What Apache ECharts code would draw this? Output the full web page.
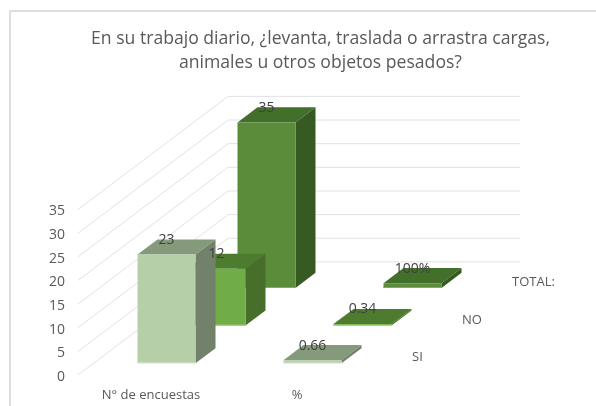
<!DOCTYPE html>
<html><head><meta charset="utf-8">
<style>html,body{margin:0;padding:0;background:#fff}#c{width:596px;height:406px}</style>
<script src="https://cdn.jsdelivr.net/npm/echarts@6/dist/echarts.min.js"></script>
</head><body><div id="c"></div>
<script>
var titleText = 'En su trabajo diario, ¿levanta, traslada o arrastra cargas,\nanimales u otros objetos pesados?';
var categories = ['N° de encuestas', '%'];
var seriesNames = ['SI', 'NO', 'TOTAL:'];
var siValues = [23, 0.66];
var noValues = [12, 0.34];
var totalValues = [35, 1];
var siLabels = ['23', '0.66'];
var noLabels = ['12', '0.34'];
var totalLabels = ['35', '100%'];
var yTicks = [0, 5, 10, 15, 20, 25, 30, 35];

var DX = 50, DY = -37.7;   // projection of one series row of depth
var BAR_W = 58, GAP = 0.31, BAR_D = 0.4;
var FONT = '"Open Sans","Noto Sans",sans-serif';
var rows = [
  {v: siValues,    l: siLabels,    front: '#b5cfa9', top: '#859a7b', side: '#71816a', edge: '#cfe2c6'},
  {v: noValues,    l: noLabels,    front: '#70ad47', top: '#4e7c2f', side: '#486e2b', edge: '#94c973'},
  {v: totalValues, l: totalLabels, front: '#5a8c39', top: '#42702a', side: '#375a22', edge: '#7db05c'}
];

var barData = [];
for (var r = rows.length - 1; r >= 0; r--) {
  for (var c = 0; c < categories.length; c++) barData.push([c, rows[r].v[c], r]);
}
function poly(points, color) {
  return {type: 'polygon', shape: {points: points}, style: {fill: color}};
}
var chart = echarts.init(document.getElementById('c'), null, {renderer: 'canvas'});
chart.setOption({
  animation: false,
  backgroundColor: '#fff',
  title: {text: titleText, left: 315.5, top: 21.5, textAlign: 'center',
    textStyle: {fontFamily: FONT, fontSize: 17.6, fontWeight: 'normal', color: '#595959', lineHeight: 24}},
  grid: {left: 78, top: 209.5, width: 292, height: 165.5},
  xAxis: {type: 'category', data: categories, axisLine: {show: false}, axisTick: {show: false},
    axisLabel: {fontFamily: FONT, fontSize: 13, color: '#595959', margin: 14}},
  yAxis: {type: 'value', min: 0, max: 35, interval: 5, splitLine: {show: false},
    axisLine: {show: false}, axisTick: {show: false},
    axisLabel: {fontFamily: FONT, fontSize: 14, color: '#595959', margin: 13, verticalAlign: 'top', lineHeight: 4}},
  series: [
    {type: 'custom', coordinateSystem: 'cartesian2d', silent: true, z: 1, data: yTicks.map(function (t) { return [0, t]; }),
      encode: {x: 0, y: 1},
      renderItem: function (params, api) {
        var cs = params.coordSys;
        var y = api.coord([0, api.value(1)])[1];
        var d = rows.length;
        return {type: 'polyline', shape: {points: [
          [cs.x, y], [cs.x + DX * d, y + DY * d], [cs.x + cs.width + DX * d, y + DY * d]
        ]}, style: {fill: null, stroke: '#e2e2e2', lineWidth: 1}};
      }},
    {type: 'custom', coordinateSystem: 'cartesian2d', silent: true, z: 2, data: barData,
      encode: {x: 0, y: 1},
      renderItem: function (params, api) {
        var p = api.coord([api.value(0), api.value(1)]);
        var b = api.coord([api.value(0), 0]);
        var r = api.value(2), row = rows[r];
        var ox = DX * (r + GAP), oy = DY * (r + GAP);
        var dx = DX * BAR_D, dy = DY * BAR_D;
        var l = p[0] - BAR_W / 2 + ox, R = p[0] + BAR_W / 2 + ox;
        var t = p[1] + oy, B = b[1] + oy;
        return {type: 'group', children: [
          poly([[l, t], [R, t], [R + dx, t + dy], [l + dx, t + dy]], row.top),
          poly([[R, t], [R + dx, t + dy], [R + dx, B + dy], [R, B]], row.side),
          poly([[l, t], [R, t], [R, B], [l, B]], row.front),
          poly([[l, B - 1], [R, B - 1], [R, B], [l, B]], row.edge)
        ]};
      }},
    {type: 'custom', coordinateSystem: 'cartesian2d', silent: true, z: 3, data: barData,
      encode: {x: 0, y: 1},
      renderItem: function (params, api) {
        var p = api.coord([api.value(0), api.value(1)]);
        var r = api.value(2);
        return {type: 'text', style: {
          x: p[0] + DX * (r + GAP), y: p[1] + DY * (r + GAP) - 14.5,
          text: rows[r].l[api.value(0)], align: 'center', verticalAlign: 'middle',
          font: '14px ' + FONT, fill: '#404040'}};
      }},
    {type: 'custom', coordinateSystem: 'cartesian2d', silent: true, z: 3,
      data: seriesNames.map(function (n, i) { return [1, 0, i]; }),
      encode: {x: 0, y: 1},
      renderItem: function (params, api) {
        var cs = params.coordSys, r = api.value(2);
        var y = api.coord([0, 0])[1];
        return {type: 'text', style: {
          x: cs.x + cs.width + DX * (r + 0.5) + 17, y: y + DY * (r + 0.5) + 1.5,
          text: seriesNames[r], align: 'left', verticalAlign: 'middle',
          font: '13px ' + FONT, fill: '#595959'}};
      }}
  ],
  graphic: [{type: 'polyline', z: 0, shape: {points: [[10, 406], [10, 11], [596, 11]]},
    style: {fill: null, stroke: '#dedede', lineWidth: 2}}]
});
</script></body></html>
